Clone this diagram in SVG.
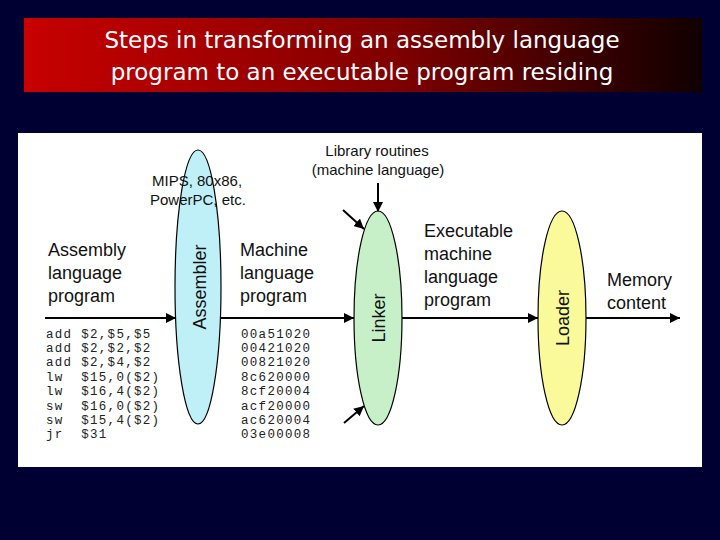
<svg xmlns="http://www.w3.org/2000/svg" width="720" height="540" viewBox="0 0 720 540">
<defs>
<linearGradient id="tg" x1="0" x2="1" y1="0" y2="0"><stop offset="0" stop-color="#c80000"/><stop offset="0.55" stop-color="#800000"/><stop offset="1" stop-color="#100000"/></linearGradient>
<marker id="ah" viewBox="0 0 10 10" refX="10" refY="5" markerWidth="10" markerHeight="10" markerUnits="userSpaceOnUse" orient="auto"><path d="M0,0 L10,5 L0,10 z" fill="#000"/></marker>
</defs>
<style>
.t{font-family:"Liberation Sans",Arial,sans-serif;font-size:18px;fill:#111}
.s{font-family:"Liberation Sans",Arial,sans-serif;font-size:15px;fill:#111}
.c{font-family:"Liberation Mono","Courier New",monospace;font-size:12.5px;letter-spacing:1.3px;fill:#222}
.ttl{font-family:"DejaVu Sans",sans-serif;font-size:23px;fill:#fff}
.ln{stroke:#000;stroke-width:2;fill:none;marker-end:url(#ah)}
.el{stroke:#000;stroke-width:1.2}
</style>
<rect width="720" height="540" fill="#000033"/>
<rect x="24" y="18" width="678" height="74" fill="url(#tg)"/>
<text class="ttl" x="362" y="48" text-anchor="middle">Steps in transforming an assembly language</text>
<text class="ttl" x="362" y="80" text-anchor="middle">program to an executable program residing</text>
<rect x="18" y="133" width="684" height="334" fill="#fff"/>
<g id="connectors">
<line class="ln" x1="45" y1="318" x2="176" y2="318"/>
<line class="ln" x1="220" y1="318" x2="354" y2="318"/>
<line class="ln" x1="402" y1="318" x2="538" y2="318"/>
<line class="ln" x1="586" y1="318" x2="680" y2="318"/>
<line class="ln" x1="378" y1="183" x2="378" y2="212"/>
<line class="ln" x1="343" y1="210" x2="364" y2="229"/>
<line class="ln" x1="344" y1="423" x2="364" y2="406"/>
</g>
<g id="assembler"><ellipse class="el" cx="198" cy="287" rx="23" ry="137" fill="#bff0f8"/><text class="t" transform="translate(206,287) rotate(-90)" text-anchor="middle">Assembler</text></g>
<g id="linker"><ellipse class="el" cx="378" cy="318" rx="24" ry="107" fill="#c8f0c8"/><text class="t" transform="translate(385,318) rotate(-90)" text-anchor="middle">Linker</text></g>
<g id="loader"><ellipse class="el" cx="562" cy="318" rx="24" ry="107" fill="#fafa9a"/><text class="t" transform="translate(569,318) rotate(-90)" text-anchor="middle">Loader</text></g>
<g id="labels">
<text class="t" x="48" y="256">Assembly</text><text class="t" x="48" y="279">language</text><text class="t" x="48" y="302">program</text>
<text class="t" x="240" y="256">Machine</text><text class="t" x="240" y="279">language</text><text class="t" x="240" y="302">program</text>
<text class="t" x="424" y="237">Executable</text><text class="t" x="424" y="260">machine</text><text class="t" x="424" y="283">language</text><text class="t" x="424" y="306">program</text>
<text class="t" x="607" y="286">Memory</text><text class="t" x="607" y="309">content</text>
<text class="s" x="377" y="156" text-anchor="middle">Library routines</text><text class="s" x="378" y="175" text-anchor="middle">(machine language)</text>
<text class="s" x="152" y="186">MIPS, 80x86,</text><text class="s" x="150" y="205">PowerPC, etc.</text>
</g>
<g id="code">
<text class="c" x="46" y="338" xml:space="preserve">add $2,$5,$5</text>
<text class="c" x="46" y="352" xml:space="preserve">add $2,$2,$2</text>
<text class="c" x="46" y="366" xml:space="preserve">add $2,$4,$2</text>
<text class="c" x="46" y="381" xml:space="preserve">lw  $15,0($2)</text>
<text class="c" x="46" y="395" xml:space="preserve">lw  $16,4($2)</text>
<text class="c" x="46" y="410" xml:space="preserve">sw  $16,0($2)</text>
<text class="c" x="46" y="424" xml:space="preserve">sw  $15,4($2)</text>
<text class="c" x="46" y="438" xml:space="preserve">jr  $31</text>
<text class="c" x="241" y="338">00a51020</text>
<text class="c" x="241" y="352">00421020</text>
<text class="c" x="241" y="366">00821020</text>
<text class="c" x="241" y="381">8c620000</text>
<text class="c" x="241" y="395">8cf20004</text>
<text class="c" x="241" y="410">acf20000</text>
<text class="c" x="241" y="424">ac620004</text>
<text class="c" x="241" y="438">03e00008</text>
</g>
</svg>
